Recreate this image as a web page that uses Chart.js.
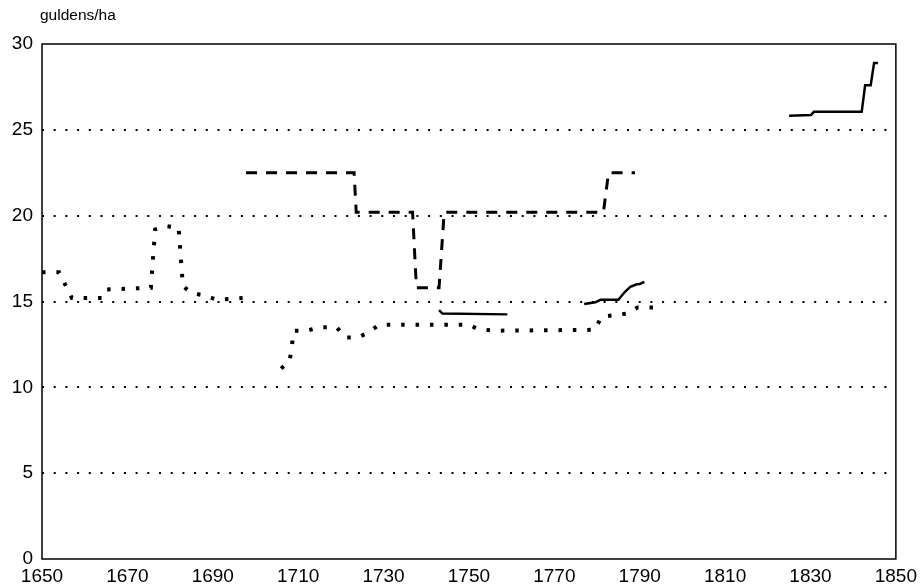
<!DOCTYPE html>
<html>
<head>
<meta charset="utf-8">
<script src="https://cdn.jsdelivr.net/npm/chart.js@4"></script>
<style>
  html, body { margin: 0; padding: 0; background: #fff; }
  #wrap { width: 923px; height: 588px; }
</style>
</head>
<body>
<div id="wrap"><canvas id="chart"></canvas></div>
<script>
// Data (years, guldens/ha); null marks a gap
const dottedYears = [1650, 1654, 1657, 1664, 1665, 1675.5, 1676.5, 1679, 1682, 1683, 1685, 1688, 1691, 1697,
    1701,
    1706, 1708, 1709, 1712, 1715, 1719, 1721, 1724, 1726.5, 1729, 1750, 1752, 1756, 1779.5, 1781, 1787, 1789.5, 1793.5];
const dottedValues = [16.7, 16.7, 15.2, 15.2, 15.7, 15.8, 19.2, 19.4, 19.3, 15.9, 15.5, 15.35, 15.1, 15.2,
    null,
    11.1, 11.5, 13.3, 13.3, 13.5, 13.5, 12.9, 12.9, 13.2, 13.65, 13.65, 13.4, 13.3, 13.35, 14.1, 14.3, 14.65, 14.65];

const dashedYears = [1697.8, 1723.1, 1723.6, 1736.8, 1737.7, 1743, 1744.2, 1781.5, 1782.7, 1788.9];
const dashedValues = [22.5, 22.5, 20.2, 20.2, 15.8, 15.8, 20.2, 20.2, 22.5, 22.5];

const solidYears = [1743, 1743.8, 1759,
    1768,
    1777, 1779.6, 1780.8, 1785, 1786.5, 1787.8, 1789.3, 1790, 1791.1,
    1808,
    1825, 1830.1, 1830.8, 1842, 1842.8, 1844.1, 1844.9, 1845.8];
const solidValues = [14.5, 14.3, 14.25,
    null,
    14.85, 14.95, 15.1, 15.1, 15.55, 15.85, 16.0, 16.02, 16.15,
    null,
    25.82, 25.86, 26.05, 26.05, 27.6, 27.6, 28.9, 28.9];

const xTicks = [1650, 1670, 1690, 1710, 1730, 1750, 1770, 1790, 1810, 1830, 1850];
const yTicks = [0, 5, 10, 15, 20, 25, 30];
const unitLabel = 'guldens/ha';

function points(xs, ys) {
    return xs.map((x, i) => ({ x: x, y: ys[i] }));
}

// frame round the plot and the unit text above the axis
const framePlugin = {
    id: 'frame',
    afterDraw(chart) {
        const { ctx, chartArea: a } = chart;
        ctx.save();
        ctx.strokeStyle = '#000';
        ctx.lineWidth = 1.5;
        ctx.strokeRect(a.left, a.top, a.right - a.left, a.bottom - a.top);
        ctx.fillStyle = '#000';
        ctx.font = '15.5px "Liberation Sans", Arial, sans-serif';
        ctx.textBaseline = 'middle';
        ctx.fillText(unitLabel, a.left - 2, 15.5);
        ctx.restore();
    }
};

Chart.defaults.font.family = '"Liberation Sans", Arial, sans-serif';
Chart.defaults.color = '#000';

new Chart(document.getElementById('chart'), {
    type: 'line',
    data: {
        datasets: [
            {
                label: 'dotted',
                data: points(dottedYears, dottedValues),
                borderColor: '#000',
                borderWidth: 4,
                borderDash: [3.5, 10.9],
                borderCapStyle: 'butt',
                pointRadius: 0,
                spanGaps: false
            },
            {
                label: 'dashed',
                data: points(dashedYears, dashedValues),
                borderColor: '#000',
                borderWidth: 3,
                borderDash: [11, 9],
                borderCapStyle: 'butt',
                pointRadius: 0
            },
            {
                label: 'solid',
                data: points(solidYears, solidValues),
                borderColor: '#000',
                borderWidth: 2.5,
                pointRadius: 0,
                spanGaps: false
            }
        ]
    },
    options: {
        responsive: true,
        maintainAspectRatio: false,
        animation: false,
        layout: { padding: { top: 44, right: 25, bottom: 0, left: 0 } },
        plugins: {
            legend: { display: false },
            tooltip: { enabled: false }
        },
        scales: {
            x: {
                type: 'linear',
                min: 1650,
                max: 1850,
                afterBuildTicks: (axis) => { axis.ticks = xTicks.map(v => ({ value: v })); },
                afterFit: (axis) => { axis.height = 29; },
                grid: { display: false, drawTicks: false },
                border: { display: false },
                ticks: { font: { size: 19 }, padding: 6, maxRotation: 0, autoSkip: false, callback: (v) => String(v) }
            },
            y: {
                min: 0,
                max: 30,
                afterBuildTicks: (axis) => { axis.ticks = yTicks.map(v => ({ value: v })); },
                afterFit: (axis) => { axis.width = 42; },
                grid: {
                    drawTicks: false,
                    lineWidth: 2,
                    color: (c) => (c.tick && (c.tick.value === 0 || c.tick.value === 30)) ? 'rgba(0,0,0,0)' : '#000'
                },
                border: { display: false, dash: [2, 9.7] },
                ticks: { font: { size: 19 }, padding: 9 }
            }
        }
    },
    plugins: [framePlugin]
});
</script>
</body>
</html>
